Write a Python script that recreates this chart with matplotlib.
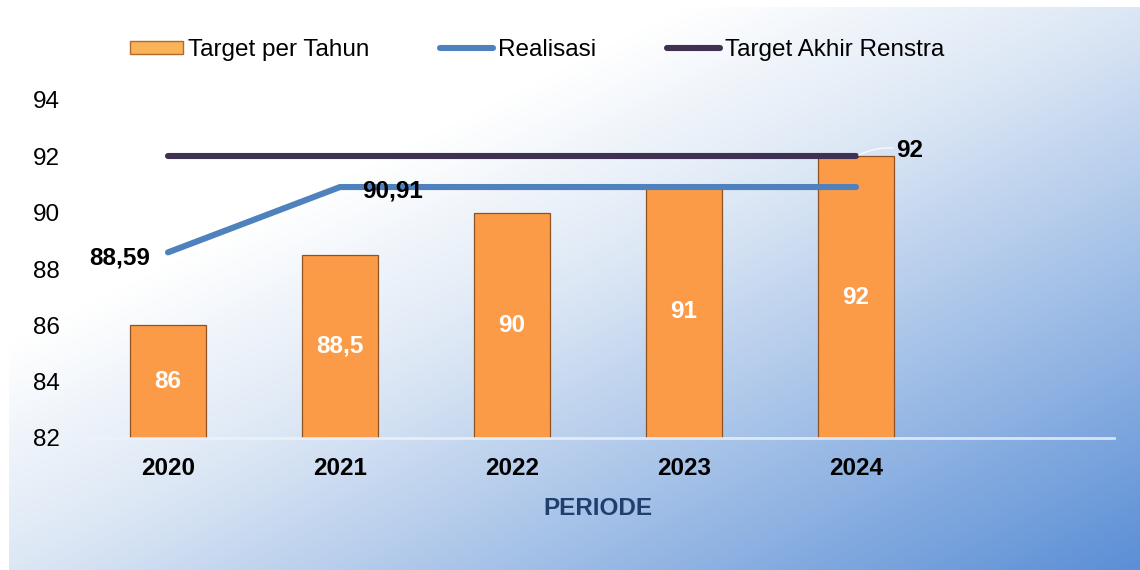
import numpy as np
import matplotlib
matplotlib.use("Agg")
import matplotlib.pyplot as plt
from matplotlib.patches import Patch
from matplotlib.lines import Line2D
from matplotlib.colors import LinearSegmentedColormap

plt.rcParams['font.family'] = ['Liberation Sans', 'DejaVu Sans']

# ---- data ----
categories = ["2020", "2021", "2022", "2023", "2024", ""]
target_per_tahun = [86, 88.5, 90, 91, 92]
target_labels = ["86", "88,5", "90", "91", "92"]
realisasi = [88.59, 90.91, 90.91, 90.91, 90.91]
target_akhir = [92, 92, 92, 92, 92]
y_ticks = [82, 84, 86, 88, 90, 92, 94]
x_label = "PERIODE"
legend_names = ["Target per Tahun", "Realisasi", "Target Akhir Renstra"]

W, H = 1140, 570
fig = plt.figure(figsize=(W / 100, H / 100), dpi=100, facecolor="white")

# ---- gradient background ----
bg = fig.add_axes([9 / W, 0, 1 - 9 / W, 1 - 7 / H], zorder=-10)
ny, nx = 300, 600
u = np.linspace(0, 1, nx)[None, :]
v = np.linspace(0, 1, ny)[:, None]
t = (u + v) / 2
cmap = LinearSegmentedColormap.from_list(
    "bg", [(0.0, "#ffffff"), (0.3, "#ffffff"), (0.5, "#dce7f5"), (1.0, "#5b8fd6")])
bg.imshow(t, cmap=cmap, vmin=0, vmax=1, aspect="auto", origin="upper",
          extent=[0, 1, 0, 1])
bg.set_axis_off()

FS = 17.5

# ---- main axes ----
ax = fig.add_axes([82 / W, 1 - 438 / H, (1114 - 82) / W, (438 - 100) / H])
ax.patch.set_alpha(0)
x = np.arange(len(categories))
n = len(target_per_tahun)

bars = ax.bar(x[:n], target_per_tahun, width=0.44, bottom=0,
              color="#fb9b48", edgecolor="#8f5322", linewidth=0.9, zorder=2)
for xi, val, lab in zip(x[:n], target_per_tahun, target_labels):
    ax.text(xi, (82 + val) / 2, lab, ha="center", va="center", color="white",
            fontsize=FS, fontweight="bold", zorder=5)

ax.plot(x[:n], target_akhir, color="#3f3151", lw=4.4, solid_capstyle="round",
        zorder=3)
ax.plot(x[:n], realisasi, color="#4f81bd", lw=4.4, solid_capstyle="round",
        zorder=3)

# data labels
ax.annotate("88,59", (x[0], realisasi[0]), xytext=(-13, -4), textcoords="offset points",
            ha="right", va="center", fontsize=FS, fontweight="bold", zorder=6)
ax.annotate("90,91", (x[1], realisasi[1]), xytext=(16, -3), textcoords="offset points",
            ha="left", va="center", fontsize=FS, fontweight="bold", zorder=6)
ax.annotate("92", (x[4], target_akhir[4]), xytext=(29, 4), textcoords="offset points",
            ha="left", va="center", fontsize=FS, fontweight="bold", zorder=6,
            arrowprops=dict(arrowstyle="-", color="white", lw=1.0, alpha=0.8,
                            shrinkA=0, shrinkB=2, connectionstyle="arc3,rad=0.2"))

ax.set_ylim(82, 94)
ax.set_xlim(-0.5, len(categories) - 0.5)
ax.set_yticks(y_ticks)
ax.set_yticklabels([str(v) for v in y_ticks], fontsize=FS)
ax.set_xticks(x)
ax.set_xticklabels(categories, fontsize=FS, fontweight="bold")
ax.tick_params(axis="both", length=0)
ax.tick_params(axis="x", pad=14)
ax.tick_params(axis="y", pad=16)
for s in ["top", "right", "left"]:
    ax.spines[s].set_visible(False)
ax.spines["bottom"].set_color("#eef3fa")
ax.spines["bottom"].set_alpha(0.8)
ax.spines["bottom"].set_linewidth(2)
ax.set_xlabel(x_label, fontsize=FS, fontweight="bold", color="#1f3f6e", labelpad=12)

# ---- legend ----
handles = [
    Patch(facecolor="#fbb35a", edgecolor="#b06a2e", linewidth=1),
    Line2D([0], [0], color="#4f81bd", lw=4.4, solid_capstyle="round"),
    Line2D([0], [0], color="#3f3151", lw=4.4, solid_capstyle="round"),
]
fig.legend(handles, legend_names, loc="center", bbox_to_anchor=(537 / W, 1 - 50 / H),
           ncol=3, frameon=False, fontsize=FS, handlelength=2.2, handleheight=0.45,
           handletextpad=0.2, columnspacing=2.9)

fig.savefig("out.png", dpi=100, facecolor="white")
